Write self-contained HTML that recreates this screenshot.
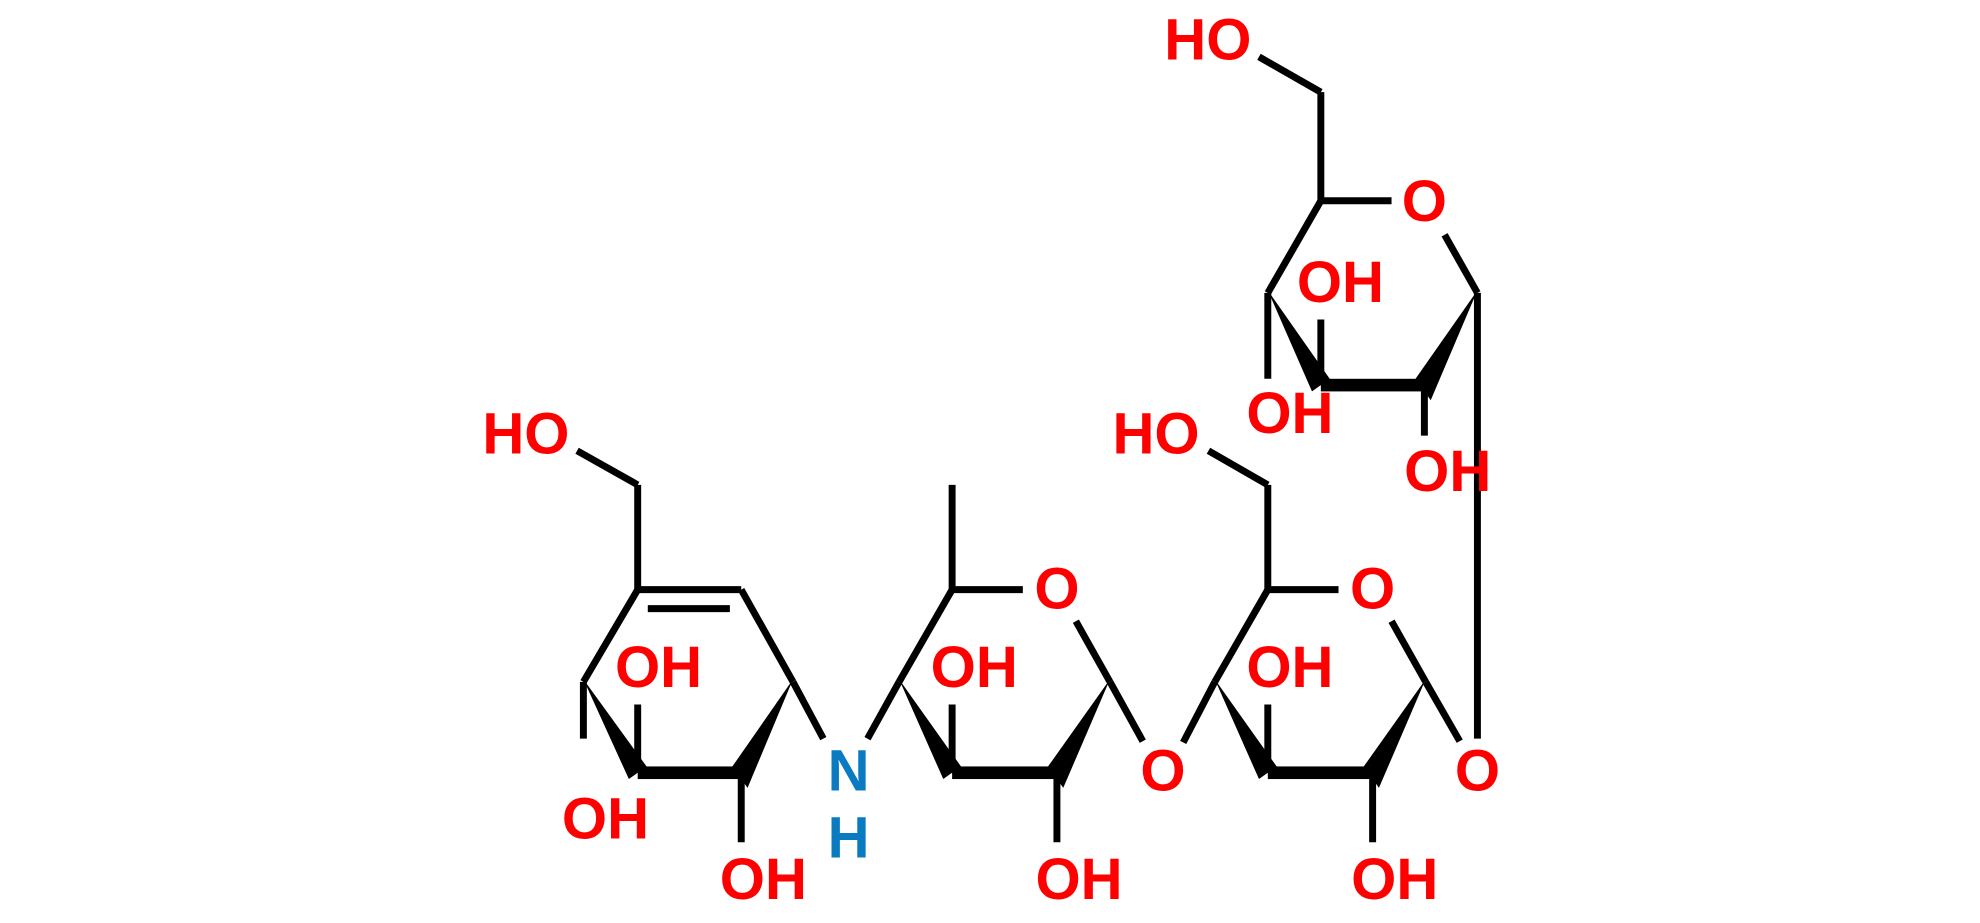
<!DOCTYPE html>
<html><head><meta charset="utf-8"><style>
html,body{margin:0;padding:0;background:#fff;width:1980px;height:923px;overflow:hidden}
svg{display:block}
text{font-family:"Liberation Sans",sans-serif;font-weight:bold;font-size:46px}
.r{fill:#ff0000}.b{fill:#0a7bc1}
</style></head><body>
<svg width="1980" height="923" viewBox="0 0 1568 731" preserveAspectRatio="none" xmlns="http://www.w3.org/2000/svg">
<g stroke="#000" stroke-width="5.5" fill="none" stroke-linecap="butt">
<!-- ring 1 -->
<line x1="505" y1="467" x2="587" y2="467"/>
<line x1="513" y1="482" x2="578" y2="482"/>
<line x1="505" y1="467" x2="462" y2="540"/>
<line x1="587" y1="467" x2="628" y2="540"/>
<line x1="505" y1="467" x2="505" y2="384"/>
<line x1="505" y1="384" x2="457" y2="357"/>
<line x1="462" y1="540" x2="462" y2="585"/>
<line x1="505" y1="612" x2="505" y2="558"/>
<line x1="587" y1="612" x2="587" y2="667"/>
<line x1="628" y1="540" x2="652" y2="585"/>
<!-- ring 2 -->
<line x1="687" y1="585" x2="712" y2="540"/>
<line x1="712" y1="540" x2="754" y2="467"/>
<line x1="754" y1="467" x2="754" y2="384"/>
<line x1="754" y1="467" x2="810" y2="467"/>
<line x1="852" y1="492" x2="879" y2="540"/>
<line x1="879" y1="540" x2="905" y2="587"/>
<line x1="754" y1="612" x2="754" y2="558"/>
<line x1="837" y1="612" x2="837" y2="667"/>
<!-- ring 3 -->
<line x1="937" y1="588" x2="962" y2="540"/>
<line x1="962" y1="540" x2="1004" y2="467"/>
<line x1="1004" y1="467" x2="1004" y2="384"/>
<line x1="1004" y1="384" x2="957" y2="357"/>
<line x1="1004" y1="467" x2="1060" y2="467"/>
<line x1="1102" y1="492" x2="1129" y2="540"/>
<line x1="1129" y1="540" x2="1156" y2="587"/>
<line x1="1004" y1="612" x2="1004" y2="558"/>
<line x1="1087" y1="612" x2="1087" y2="667"/>
<line x1="1170" y1="585" x2="1170" y2="232"/>
<!-- ring 4 -->
<line x1="1170" y1="232" x2="1144" y2="186"/>
<line x1="1046" y1="159" x2="1102" y2="159"/>
<line x1="1046" y1="159" x2="1046" y2="73"/>
<line x1="1046" y1="73" x2="997" y2="45"/>
<line x1="1046" y1="159" x2="1004" y2="232"/>
<line x1="1004" y1="232" x2="1004" y2="300"/>
<line x1="1046" y1="305" x2="1046" y2="253"/>
<line x1="1128" y1="305" x2="1128" y2="345"/>
</g>
<g fill="#000">
<rect x="505" y="607" width="82" height="10"/>
<rect x="754" y="607" width="83" height="10"/>
<rect x="1004" y="607" width="83" height="10"/>
<rect x="1046" y="300" width="82" height="10"/>
<polygon points="462,538 498,617 512,607"/>
<polygon points="628,538 580,607 592,624"/>
<polygon points="712,538 747,617 761,607"/>
<polygon points="879,538 830,607 842,624"/>
<polygon points="962,538 997,617 1011,607"/>
<polygon points="1129,538 1080,607 1092,624"/>
<polygon points="1004,230 1039,310 1053,300"/>
<polygon points="1170,230 1121,300 1133,317"/>
</g>
<g>
<text class="r" x="382" y="359">HO</text>
<text class="r" x="487" y="544">OH</text>
<text class="r" x="445" y="664">OH</text>
<text class="r" x="570" y="712">OH</text>
<text class="b" x="672" y="626" text-anchor="middle">N</text>
<text class="b" x="672" y="679" text-anchor="middle">H</text>
<text class="r" x="837" y="482" text-anchor="middle">O</text>
<text class="r" x="737" y="544">OH</text>
<text class="r" x="820" y="712">OH</text>
<text class="r" x="921" y="626" text-anchor="middle">O</text>
<text class="r" x="881" y="359">HO</text>
<text class="r" x="1087" y="482" text-anchor="middle">O</text>
<text class="r" x="987" y="544">OH</text>
<text class="r" x="1070" y="712">OH</text>
<text class="r" x="1170" y="626" text-anchor="middle">O</text>
<text class="r" x="922" y="47">HO</text>
<text class="r" x="1128" y="175" text-anchor="middle">O</text>
<text class="r" x="1027" y="239">OH</text>
<text class="r" x="987" y="343">OH</text>
<text class="r" x="1112" y="389">OH</text>
</g>
</svg>
</body></html>
